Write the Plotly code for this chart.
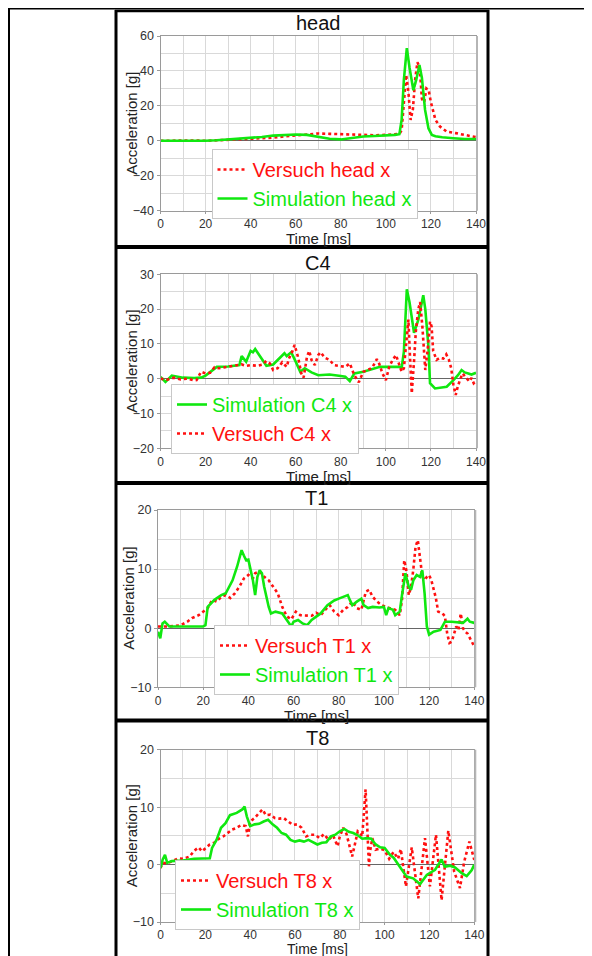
import plotly.graph_objects as go

# ---------------- data ----------------
head_v_t = [0, 5, 10, 15, 20, 25, 30, 35, 40, 45, 50, 55, 60, 65, 70, 75, 80, 85, 90, 95, 100, 104, 106, 107, 108, 109, 110, 111, 112, 113, 114, 115, 116, 117, 118, 119, 120, 121, 122, 124, 127, 131, 135, 140]
head_v_y = [0, 0.2, 0, 0.2, 0, 0.3, 0.6, 0.8, 1.0, 1.2, 1.8, 2.5, 3.2, 3.8, 4.2, 4.0, 3.8, 3.5, 3.0, 3.2, 3.4, 3.6, 4.0, 6, 25, 37.7, 28, 12, 18, 35, 45, 42, 24, 22, 30, 29, 22, 16, 12, 8.2, 5.3, 4.4, 3.2, 2.1]
head_s_t = [0, 5, 10, 15, 20, 25, 30, 35, 40, 45, 50, 55, 60, 65, 70, 75, 80, 85, 90, 95, 100, 104, 106, 107, 108, 109.3, 110.5, 112.2, 113.5, 114.9, 116, 117.4, 118.9, 120.4, 122, 125, 130, 135, 140]
head_s_y = [0, 0, -0.2, 0, 0, 0.3, 0.8, 1.2, 1.5, 2.2, 3.0, 3.5, 3.6, 3.4, 2.2, 1.2, 0.8, 1.8, 2.5, 2.8, 3.0, 3.4, 3.8, 12, 35, 53, 42, 29, 35, 43.4, 36, 17.7, 7.2, 3.4, 2.6, 2.0, 1.5, 1.0, 1.0]

c4_s_t = [0, 2.2, 5, 10, 15, 18, 20, 22, 25, 30, 35, 36, 38, 40, 41, 42, 44, 47, 50, 53, 55, 56, 58, 60, 62, 64, 67, 70, 75, 80, 82, 84, 86, 90, 95, 97.4, 100, 104, 106.3, 107, 108, 109.3, 110.5, 112.5, 114.4, 116.6, 117.5, 118.9, 119.6, 121.8, 124, 127, 130, 132, 133.6, 135, 136.6, 138, 140]
c4_s_y = [0.5, -0.9, 0.9, 0.3, 0.2, 0.3, 0.9, 2.0, 3.4, 3.5, 3.9, 6.5, 4.9, 8.0, 7.6, 8.5, 6.6, 3.7, 4.1, 6.0, 7.3, 6.5, 7.6, 4.9, 2.0, 3.0, 1.8, 1.0, 1.2, 0.8, 0.6, -0.7, 1.5, 2.0, 2.8, 3.4, 3.4, 3.4, 3.4, 3.0, 7.8, 25.7, 22, 13.2, 16.9, 24, 20, 9.2, -1.3, -2.8, -2.5, -2.3, -0.4, 1.0, 2.5, 1.8, 1.5, 1.2, 1.7]
c4_v_t = [0, 3, 6, 9, 12, 15, 16, 18, 20, 22, 24, 26, 28, 30, 33, 36, 38, 40, 43, 45, 47, 48.5, 50, 52, 54, 56, 57, 58.5, 59.5, 61, 62.5, 63.5, 65, 66, 67, 68.5, 70, 71, 73, 75, 77, 80, 82, 84, 86, 88, 90, 92, 94, 96, 97, 98.5, 100, 101.5, 103, 104.5, 105.5, 107, 108, 109.3, 110, 110.6, 111.5, 112.5, 113.3, 114.4, 115.2, 116.2, 117.5, 118.5, 119.6, 120.3, 121, 122.5, 124, 125.5, 126.8, 128, 129, 130, 131, 132, 133, 134, 136, 137, 138, 139, 140]
c4_v_y = [0, -0.3, 0.3, -0.2, 0, -0.5, -0.4, 2.0, 1.5, 1.7, 3.3, 3.0, 3.2, 3.4, 3.7, 4.1, 3.7, 3.9, 3.7, 4.0, 5.1, 4.4, 2.5, 3.0, 4.7, 3.4, 5.8, 7.8, 9.7, 6.3, 1.5, 0.3, 6.3, 8.0, 5.4, 3.9, 6.8, 7.6, 6.0, 5.4, 3.9, 3.7, 3.4, 4.4, 1.0, -1.0, 2.0, 2.5, 3.2, 5.6, 4.4, 1.5, -0.4, 3.4, 5.4, 6.8, 4.8, 2.0, 3.0, 13, 17, 8, -4.2, 5, 13.6, 20, 22, 15, 2.5, 8, 16.4, 15, 8, 5.4, 6.0, 5.8, 7.0, 5.4, 3, -1.8, -4.7, -2, 0.1, 1.5, 0, -0.8, 0.2, -1.3, -0.7]

t1_v_t = [0, 5, 10, 13, 15, 18, 20, 22, 24, 26, 28, 30, 32, 34, 36, 38, 40, 42, 43, 45, 47, 49, 51, 53, 55, 57, 59, 61, 63, 65, 68, 70, 72, 74, 76, 78, 80, 82, 84, 86, 88, 90, 92, 93.5, 95, 97, 99, 101, 103, 105, 107, 108, 109, 110, 111, 112, 113, 114, 115, 116, 117, 118, 119, 120, 121, 123, 124, 126, 127, 128, 129, 130, 131, 132, 133, 134, 135, 136, 137, 138, 139, 140]
t1_v_y = [0.3, 0.3, 0.5, 1.1, 1.7, 2.2, 2.8, 3.4, 4.8, 4.5, 5.3, 5.6, 5.1, 5.9, 7.0, 8.4, 9.0, 8.4, 9.3, 9.6, 8.7, 8.1, 7.0, 5.9, 3.6, 2.0, 1.5, 2.8, 2.2, 2.2, 2.1, 2.6, 2.2, 3.1, 3.9, 2.8, 2.2, 3.1, 3.6, 4.5, 3.4, 3.1, 6.2, 6.5, 5.3, 4.5, 3.9, 3.6, 3.4, 3.1, 2.2, 4.8, 11.5, 9.6, 5.6, 7.0, 9.9, 13.8, 14.9, 11.5, 8.7, 8.1, 8.7, 9.0, 8.1, 5.1, 2.8, 2.5, 2.0, -0.9, -2.5, -2.3, -0.9, 0.3, -0.3, 2.5, 0, -0.6, -0.9, -1.7, -2.5, -3.1]
t1_s_t = [0, 1, 2, 3, 5, 7, 10, 15, 20, 21, 22, 25, 28, 30, 33, 35, 37, 38, 39, 40, 41, 42, 43, 44, 45, 46, 47, 49, 50, 52, 55, 57, 58, 59, 60, 62, 64, 66, 68, 70, 72, 75, 78, 80, 83, 84, 85, 86, 88, 90, 91, 93, 95, 98, 100, 101, 102, 104, 105, 106, 107, 108, 109.5, 111, 112, 113, 114.5, 116, 117, 118, 119, 120, 122, 125, 127, 130, 135, 137, 138, 140]
t1_s_y = [-0.6, -1.7, 0.8, 1.1, 0.3, 0.3, 0.4, 0.4, 0.3, 0.5, 3.6, 4.8, 5.6, 5.9, 8.1, 10.4, 13.2, 12.3, 11.5, 11.6, 10.1, 8.1, 5.6, 8.7, 9.8, 9.3, 7.0, 3.6, 2.5, 2.8, 2.5, 1.4, 0.8, 0.3, 1.1, 1.4, 0.8, 0.5, 1.4, 2.0, 2.5, 3.9, 4.7, 5.0, 5.4, 5.6, 4.7, 3.9, 4.5, 5.0, 3.9, 3.4, 3.6, 3.5, 3.6, 2.2, 3.4, 3.1, 2.2, 2.5, 2.8, 5.6, 9.3, 7.0, 6.5, 8.1, 9.0, 8.7, 9.8, 5.9, 0.3, -1.1, -0.6, -0.3, 1.1, 1.1, 0.9, 1.6, 1.1, 0.9]

t8_v_t = [0, 1, 3, 5, 8, 10, 13, 15, 17, 18.5, 20, 22, 24, 26, 28, 30, 32, 34, 36, 38, 39, 40, 42, 44, 45.5, 47, 49, 51, 53, 55, 57, 59, 61, 63, 65, 67, 69, 71, 73, 75, 77, 79, 80, 81.5, 83, 84.5, 85.5, 87, 88, 89, 90, 90.8, 91.5, 92, 92.5, 93, 93.5, 94.5, 96, 98, 100, 102, 104, 106, 107.2, 109.5, 112.1, 115, 118, 120.2, 122.9, 125.4, 128.4, 131, 133.6, 135.5, 137.8, 140]
t8_v_y = [-0.6, 0.3, 0.2, 0.6, 1.1, 1.0, 1.4, 2.4, 3.0, 2.3, 2.8, 3.5, 3.8, 4.5, 4.9, 5.5, 6.1, 6.4, 6.9, 6.7, 4.9, 7.5, 8.1, 9.0, 9.6, 8.6, 8.7, 8.1, 8.0, 8.1, 7.5, 6.9, 7.0, 6.4, 4.9, 5.2, 5.2, 4.6, 5.3, 4.3, 5.1, 3.2, 4.9, 6.4, 5.3, 2.9, 1.4, 4.0, 5.8, 5.5, 4.9, 9.3, 13.1, 8.7, 2.9, -0.3, 2.3, 4.6, 2.6, 2.8, 2.5, 1.0, 2.2, 1.0, 2.7, -3.8, 3.0, -5.9, 4.6, -3.8, 5.2, -6.2, 5.9, -1.2, -4.1, 0.5, 4.0, 0.8]
t8_s_t = [0, 1, 2, 3, 5, 10, 15, 20, 22, 23, 25, 27, 29, 31, 34, 36.5, 37.5, 38.5, 40, 42, 44, 46, 48, 50, 52, 54, 56, 58, 60, 62, 64, 66, 68, 70, 72, 74, 76, 78, 80, 82, 84, 86, 88, 90, 92, 94, 96, 98, 100, 102.4, 104, 106.8, 109.8, 112.7, 115.8, 118.8, 122.5, 125.4, 126.8, 129.2, 131.4, 134.4, 136.6, 138.8, 140]
t8_s_y = [-0.6, 0.9, 1.7, 0.3, 0.6, 0.7, 1.0, 1.0, 1.1, 2.9, 4.3, 6.4, 7.2, 8.6, 9.0, 9.6, 10.1, 8.4, 6.7, 7.0, 7.1, 7.5, 7.8, 7.0, 6.4, 5.5, 5.2, 4.3, 4.0, 4.2, 4.0, 4.3, 3.9, 3.5, 3.8, 3.9, 4.9, 5.2, 5.8, 6.2, 5.7, 5.5, 5.1, 4.5, 4.6, 4.5, 3.5, 3.0, 2.9, 1.7, 1.2, -0.4, -2.1, -2.4, -3.4, -1.8, -0.9, 0.9, -0.4, -0.2, -0.5, -1.5, -2.0, -1.0, 0.0]

panel_titles = ["head", "C4", "T1", "T8"]
x_title = "Time [ms]"
y_title = "Acceleration [g]"
y_ranges = [[-40, 60], [-20, 30], [-10, 20], [-10, 20]]
y_dticks = [20, 10, 10, 10]
y_minor = [10, 5, 5, 5]
x_tick_step = 20
x_minor_step = 10

# ---------------- layout helpers ----------------
# the page body has an 8px margin: work in window pixels and shift by it
OFF = 8
W, H = 592 - OFF, 956 - OFF
def px(x):
    return (x - OFF) / W
def py(y):
    return 1 - (y - OFF) / H

RED = "#FF1010"
GREEN = "#10E810"
FONT = "Arial, Liberation Sans, sans-serif"

# plot area boxes in window pixels: (left, right, top, bottom)
boxes = [(160.5, 476, 36, 210.7), (160.5, 476, 274.3, 448.3), (158, 474.3, 510, 687.3), (160.5, 474.3, 749.7, 922)]
title_y = [23, 263, 498, 738]
xtitle_gap = [28, 28, 28, 27]
xtitle_size = [15, 15, 15, 14]
legend_pos = [(211.5, 149), (171, 384), (214, 625), (175, 860)]

fig = go.Figure()

def add(i, t, y, name, versuch):
    ax = "" if i == 0 else str(i + 1)
    color = RED if versuch else GREEN
    fig.add_trace(go.Scatter(
        x=t, y=y, mode="lines", name='<span style="color:%s">%s</span>' % (color, name),
        line=dict(color=color, width=2.6, dash="dot" if versuch else "solid"),
        xaxis="x" + ax, yaxis="y" + ax, legend="legend" + ax,
    ))

add(0, head_v_t, head_v_y, "Versuch head x", True)
add(0, head_s_t, head_s_y, "Simulation head x", False)
add(1, c4_s_t, c4_s_y, "Simulation C4 x", False)
add(1, c4_v_t, c4_v_y, "Versuch C4 x", True)
add(2, t1_v_t, t1_v_y, "Versuch T1 x", True)
add(2, t1_s_t, t1_s_y, "Simulation T1 x", False)
add(3, t8_v_t, t8_v_y, "Versuch T8 x", True)
add(3, t8_s_t, t8_s_y, "Simulation T8 x", False)

layout = dict(
    width=W, height=H, margin=dict(l=0, r=0, t=0, b=0, autoexpand=False),
    paper_bgcolor="white", plot_bgcolor="white",
    font=dict(family=FONT, color="#222"),
    shapes=[], annotations=[],
)

GRID = "#d9d9d9"
for i, (l, r, t, b) in enumerate(boxes):
    ax = "" if i == 0 else str(i + 1)
    layout["xaxis" + ax] = dict(
        domain=[px(l), px(r)], anchor="y" + ax, range=[0, 140], automargin=False,
        dtick=x_tick_step, tick0=0, showgrid=True, gridcolor=GRID, gridwidth=1,
        minor=dict(dtick=x_minor_step, showgrid=True, gridcolor=GRID, ticks=""),
        showline=True, linecolor="#9a9a9a", linewidth=1, mirror=True,
        ticks="outside", ticklen=2, tickcolor="#9a9a9a",
        zeroline=False,
        tickfont=dict(size=12, color="#333", family=FONT),
    )
    layout["yaxis" + ax] = dict(
        domain=[py(b), py(t)], anchor="x" + ax, range=y_ranges[i], automargin=False,
        dtick=y_dticks[i], showgrid=True, gridcolor=GRID, gridwidth=1,
        minor=dict(dtick=y_minor[i], showgrid=True, gridcolor=GRID, ticks=""),
        showline=True, linecolor="#9a9a9a", linewidth=1, mirror=True,
        ticks="outside", ticklen=3, tickcolor="#9a9a9a",
        zeroline=True, zerolinecolor="#666", zerolinewidth=1,
        tickfont=dict(size=12.5, color="#333", family=FONT),
    )
    layout["legend" + ax] = dict(
        x=px(legend_pos[i][0]), y=py(legend_pos[i][1]), xanchor="left", yanchor="top",
        bgcolor="white", bordercolor="#c8c8c8", borderwidth=1,
        font=dict(size=20, family=FONT), itemwidth=30, tracegroupgap=0,
    )
    layout["annotations"] += [
        dict(text=panel_titles[i], x=px((l + r) / 2), y=py(title_y[i]), xref="paper", yref="paper",
             showarrow=False, font=dict(size=20, color="#111", family=FONT), xanchor="center", yanchor="middle"),
        dict(text=x_title, x=px((l + r) / 2), y=py(b + xtitle_gap[i]), xref="paper", yref="paper",
             showarrow=False, font=dict(size=xtitle_size[i], color="#222", family=FONT), xanchor="center", yanchor="middle"),
        dict(text=y_title, x=px(l - 29), y=py((t + b) / 2), xref="paper", yref="paper", textangle=-90,
             showarrow=False, font=dict(size=15, color="#222", family=FONT), xanchor="center", yanchor="middle"),
    ]
    # right-side shadow of plot frame
    layout["shapes"].append(dict(type="line", xref="paper", yref="paper",
                                 x0=px(r + 1), x1=px(r + 1), y0=py(b), y1=py(t),
                                 line=dict(color="#b5b5b5", width=2)))

# table borders
def hline(y, x0, x1, w):
    return dict(type="line", xref="paper", yref="paper", x0=px(x0), x1=px(x1), y0=py(y), y1=py(y), line=dict(color="black", width=w))
def vline(x, y0, y1, w):
    return dict(type="line", xref="paper", yref="paper", x0=px(x), x1=px(x), y0=py(y0), y1=py(y1), line=dict(color="black", width=w))

layout["shapes"] += [
    hline(8.75, 7, 592, 1.5), vline(8.5, 8, 956, 3),
    hline(11, 115, 489, 2.5), vline(116, 10, 956, 3), vline(488, 10, 956, 3),
    hline(247, 115, 489, 4), hline(483, 115, 489, 4), hline(720.5, 115, 489, 4),
]

fig.update_layout(**layout)
fig.write_html("out.html")
